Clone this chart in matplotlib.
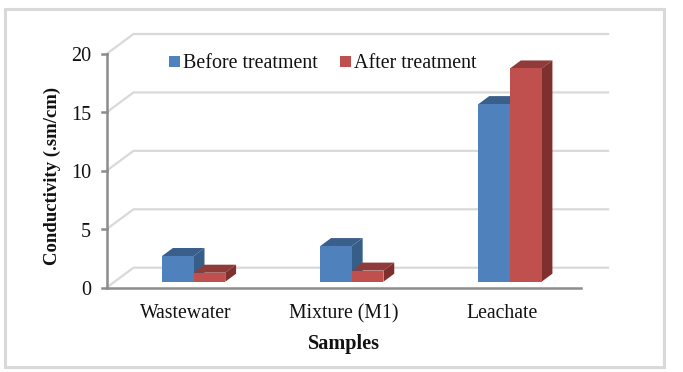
import matplotlib
matplotlib.use('Agg')
import matplotlib.pyplot as plt
from matplotlib.patches import Polygon, Rectangle

categories = ['Wastewater', 'Mixture (M1)', 'Leachate']
before = [2.2, 3.05, 15.2]
after = [0.77, 0.95, 18.25]
yticks = [0, 5, 10, 15, 20]

W, H = 683, 372
blue = ['#4f81bd', '#3a5f8b', '#375d89']
red = ['#c0504d', '#8e3b39', '#7f302e']
font = 'Liberation Serif'

fig = plt.figure(figsize=(W / 100, H / 100), dpi=100)
fig.patch.set_facecolor('white')

# outer grey frame
fig.add_artist(Rectangle((5 / W, 1 - 367 / H), 659 / W, 358.5 / H, transform=fig.transFigure,
                         fill=False, ec='#d9d9d9', lw=2.2))

ax = fig.add_axes([106.5 / W, 1 - 287.7 / H, 474.5 / W, 233.7 / H])
ax.set_xlim(0, 3)
ax.set_ylim(0, 20)
ax.axis('off')

# depth of the fake 3D box in data units
px_x = 3 / 474.5
px_y = 20 / 233.7
dx = 27 * px_x
dy = 20 * px_y
bar_w = 31.6 * px_x

# gridlines on the back wall and side wall
for v in yticks:
    ax.plot([0, dx, 3 + dx], [v, v + dy, v + dy], color='#d9d9d9', lw=1.6, clip_on=False, zorder=1)


def bar3d(x0, h, cols, z):
    y0 = 0.3 * dy
    xs = x0 + 0.3 * dx
    d_x = 0.4 * dx
    d_y = 0.4 * dy
    x1 = xs + bar_w
    y1 = y0 + h
    ax.add_patch(Polygon([(xs, y1), (x1, y1), (x1 + d_x, y1 + d_y), (xs + d_x, y1 + d_y)],
                         fc=cols[1], ec='none', zorder=z, clip_on=False))
    ax.add_patch(Polygon([(x1, y0), (x1 + d_x, y0 + d_y), (x1 + d_x, y1 + d_y), (x1, y1)],
                         fc=cols[2], ec='none', zorder=z, clip_on=False))
    ax.add_patch(Rectangle((xs, y0), bar_w, h, fc=cols[0], ec='none', zorder=z + 0.1, clip_on=False))


for i in range(len(categories)):
    bar3d(i + 0.5 - bar_w, before[i], blue, 3)
    bar3d(i + 0.5, after[i], red, 4)
    ax.text(i + 0.5, -2.2, categories[i], ha='center', va='center', family=font, fontsize=14.2, color='#111111')

# axes
ax.plot([0, 0], [0, 20], color='#8c8c8c', lw=1.8, clip_on=False, zorder=5)
ax.plot([0, 3], [0, 0], color='#8c8c8c', lw=1.8, clip_on=False, zorder=5)
for v in yticks:
    ax.plot([-5 * px_x, 0], [v, v], color='#8c8c8c', lw=1.8, clip_on=False, zorder=5)
    ax.text(-15.5 * px_x, v - 3 * px_y, str(v), ha='right', va='center', family=font, fontsize=14.5, color='#111111')

ax.text(-54 * px_x, 9.6, 'Conductivity (.sm/cm)', rotation=90, ha='center', va='center',
        family=font, fontsize=13.5, fontweight='bold', color='#111111')
ax.text(1.5, -4.85, 'Samples', ha='center', va='center', family=font, fontsize=14.6, fontweight='bold', color='#111111')

# legend
fig.add_artist(Rectangle((169 / W, 1 - 67 / H), 11 / W, 11 / H, transform=fig.transFigure, fc=blue[0], ec='none'))
fig.add_artist(Rectangle((340 / W, 1 - 67 / H), 11 / W, 11 / H, transform=fig.transFigure, fc=red[0], ec='none'))
fig.text(183 / W, 1 - 64 / H, 'Before treatment', ha='left', va='center', family=font, fontsize=14.4, color='#111111')
fig.text(354 / W, 1 - 64 / H, 'After treatment', ha='left', va='center', family=font, fontsize=14.4, color='#111111')

fig.savefig('out.png', dpi=100)
